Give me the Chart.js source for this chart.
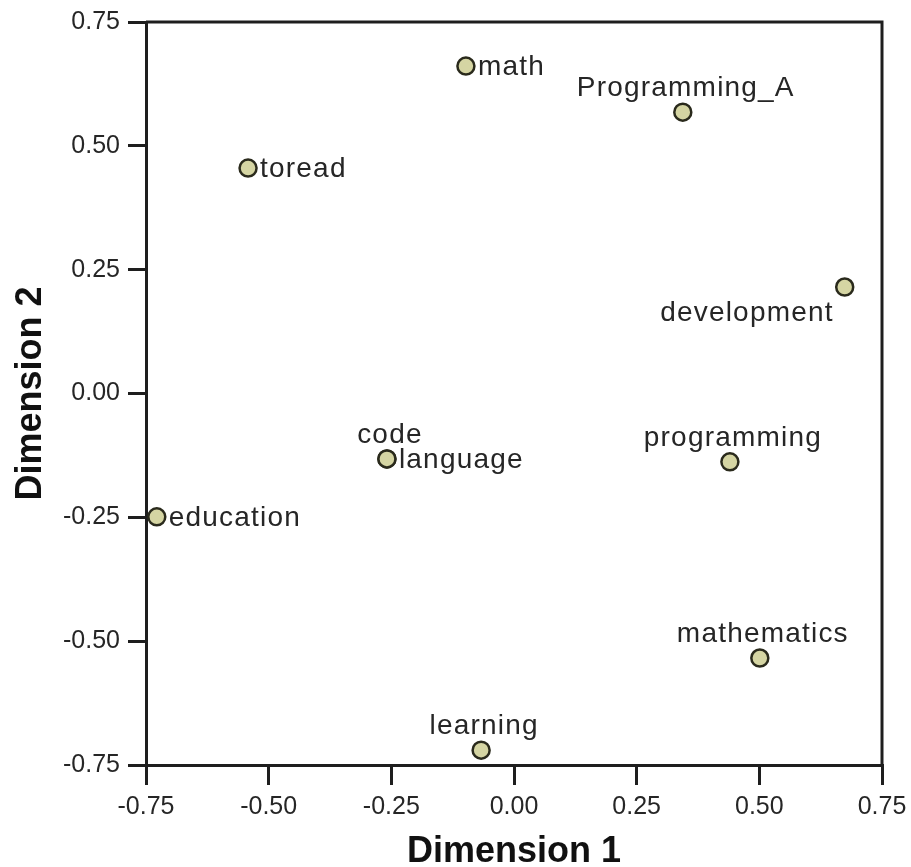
<!DOCTYPE html>
<html>
<head>
<meta charset="utf-8">
<script src="https://cdn.jsdelivr.net/npm/chart.js@4/dist/chart.umd.min.js"></script>
<style>
  html, body { margin: 0; padding: 0; background: #fff; }
  #wrap { width: 911px; height: 867px; position: relative; }
</style>
</head>
<body>
<div id="wrap"><canvas id="c"></canvas></div>
<script>
// ---- data ----
const pointNames = ['math', 'Programming_A', 'toread', 'development', 'code', 'language', 'programming', 'education', 'mathematics', 'learning'];
const dimension1 = [-0.098, 0.344, -0.542, 0.674, -0.259, -0.259, 0.440, -0.728, 0.501, -0.067];
const dimension2 = [0.661, 0.568, 0.455, 0.215, -0.132, -0.132, -0.138, -0.249, -0.534, -0.720];
const axisTicks = [-0.75, -0.50, -0.25, 0.00, 0.25, 0.50, 0.75];
const xTitle = 'Dimension 1';
const yTitle = 'Dimension 2';

// label placement (style only)
const labelPlacement = ['right', 'above', 'right', 'belowLeft', 'above', 'right', 'above', 'right', 'above', 'above'];

const TEXT = '#262626';
const LINE = '#1e1e1e';

const framePlugin = {
  id: 'frame',
  beforeDatasetsDraw(chart) {
    const {ctx, chartArea: a} = chart;
    ctx.save();
    ctx.strokeStyle = LINE;
    ctx.lineWidth = 3;
    ctx.beginPath();
    ctx.moveTo(a.left, a.top);
    ctx.lineTo(a.right, a.top);
    ctx.lineTo(a.right, a.bottom);
    ctx.stroke();
    ctx.restore();
  }
};

const labelPlugin = {
  id: 'pointLabels',
  afterDatasetsDraw(chart) {
    const {ctx} = chart;
    const meta = chart.getDatasetMeta(0);
    ctx.save();
    ctx.font = '28px "Liberation Sans", Arial, sans-serif';
    ctx.fillStyle = TEXT;
    ctx.textBaseline = 'alphabetic';
    try { ctx.letterSpacing = '1.2px'; } catch (e) {}
    meta.data.forEach((el, i) => {
      const name = pointNames[i];
      const p = labelPlacement[i];
      let x = el.x, y = el.y;
      if (p === 'right') { ctx.textAlign = 'left'; x += 12; y += 9; }
      else if (p === 'above') { ctx.textAlign = 'center'; x += 3; y -= 16; }
      else if (p === 'belowLeft') { ctx.textAlign = 'right'; x -= 11; y += 34; }
      ctx.fillText(name, x, y);
    });
    ctx.restore();
  }
};

const tickFont = {family: '"Liberation Sans", Arial, sans-serif', size: 25};
const titleFont = {family: '"Liberation Sans", Arial, sans-serif', size: 36, weight: 'bold', lineHeight: 0.8};

new Chart(document.getElementById('c'), {
  type: 'scatter',
  data: {
    datasets: [{
      data: dimension1.map((v, i) => ({x: v, y: dimension2[i]})),
      backgroundColor: '#d5d5a3',
      borderColor: '#2a2a1c',
      borderWidth: 2.5,
      pointRadius: 8.5,
      pointHoverRadius: 8.5,
      clip: false
    }]
  },
  plugins: [framePlugin, labelPlugin],
  options: {
    responsive: true,
    maintainAspectRatio: false,
    animation: false,
    events: [],
    layout: {padding: {left: 0, top: 22, right: 29, bottom: 0}},
    plugins: {legend: {display: false}, tooltip: {enabled: false}},
    scales: {
      x: {
        type: 'linear',
        position: 'bottom',
        min: -0.75, max: 0.75,
        afterBuildTicks(s) { s.ticks = axisTicks.map(v => ({value: v})); },
        afterFit(s) { s.height = 102; s.paddingLeft = 0; s.paddingRight = 0; },
        ticks: {
          callback: v => Number(v).toFixed(2),
          font: tickFont, color: TEXT, padding: 7, maxRotation: 0, autoSkip: false
        },
        grid: {drawOnChartArea: false, drawTicks: true, tickLength: 20, color: LINE, lineWidth: 3},
        border: {display: true, color: LINE, width: 3},
        title: {display: true, text: xTitle, font: titleFont, color: '#111', padding: {top: 0, bottom: 1}}
      },
      y: {
        type: 'linear',
        position: 'left',
        min: -0.75, max: 0.75,
        afterBuildTicks(s) { s.ticks = axisTicks.map(v => ({value: v})); },
        afterFit(s) { s.width = 146; s.paddingTop = 0; s.paddingBottom = 0; },
        ticks: {
          callback: v => Number(v).toFixed(2),
          font: tickFont, color: TEXT, padding: 8, autoSkip: false
        },
        grid: {drawOnChartArea: false, drawTicks: true, tickLength: 18, color: LINE, lineWidth: 3},
        border: {display: true, color: LINE, width: 3},
        title: {display: true, text: yTitle, font: titleFont, color: '#111', padding: {top: 17, bottom: 0}}
      }
    }
  }
});
</script>
</body>
</html>
